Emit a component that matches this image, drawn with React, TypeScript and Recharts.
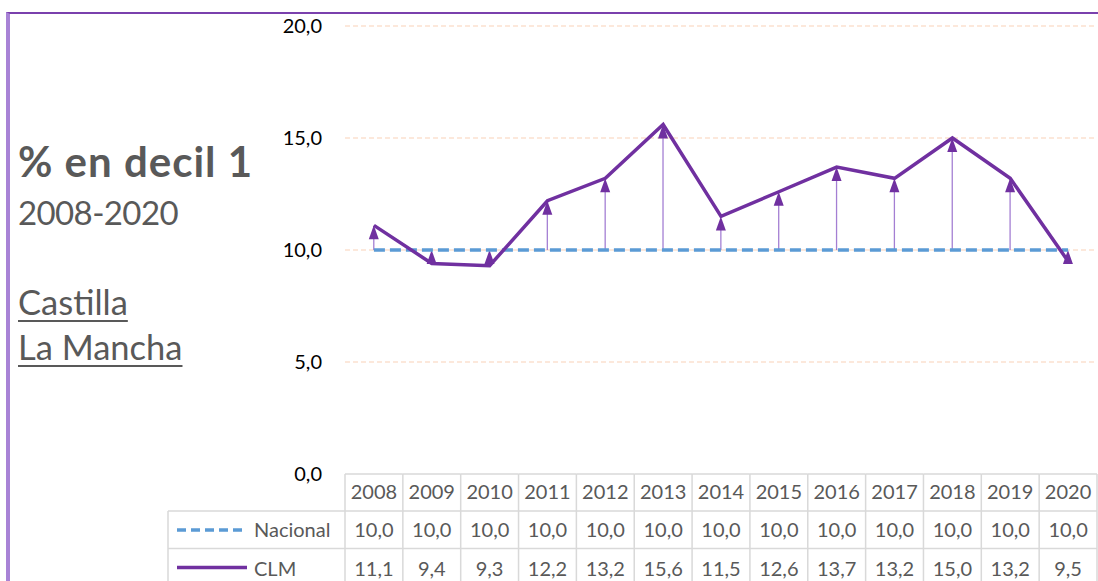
import React from 'react';
import { ComposedChart, Line, Bar, XAxis, YAxis, CartesianGrid } from 'recharts';

const years = ['2008', '2009', '2010', '2011', '2012', '2013', '2014', '2015', '2016', '2017', '2018', '2019', '2020'];
const nacional = [10.0, 10.0, 10.0, 10.0, 10.0, 10.0, 10.0, 10.0, 10.0, 10.0, 10.0, 10.0, 10.0];
const clm = [11.1, 9.4, 9.3, 12.2, 13.2, 15.6, 11.5, 12.6, 13.7, 13.2, 15.0, 13.2, 9.5];
const yTicks = [0, 5, 10, 15, 20];

const data = years.map((year, i) => ({
  year,
  nacional: nacional[i],
  clm: clm[i],
  range: [Math.min(nacional[i], clm[i]), Math.max(nacional[i], clm[i])],
}));

const fmt = (v: number) => v.toFixed(1).replace('.', ',');

const FONT = 'Lato, "Open Sans", sans-serif';
const TXT = '#595959';
const GRID = '#d9d9d9';

const ArrowShape = (props: any) => {
  const { x, y, width, height } = props;
  if (x == null || y == null) return null;
  const cx = x + width / 2;
  const top = Math.min(y, y + height);
  const bottom = Math.max(y, y + height);
  const tw = 10;
  const th = 14;
  return (
    <g>
      <line x1={cx} x2={cx} y1={bottom} y2={top + th / 2} stroke="#a47fd3" strokeWidth={1.3} />
      <polygon points={`${cx},${top} ${cx - tw / 2},${top + th} ${cx + tw / 2},${top + th}`} fill="#7030a0" />
    </g>
  );
};

const TableTick = (props: any) => {
  const { x, y, index, width } = props;
  const bw = width ? width / years.length : 57.9;
  const left = x - bw / 2;
  const right = x + bw / 2;
  const r1 = y + 37;
  const r2 = y + 74.5;
  const bottom = y + 120;
  const i = index;
  const legendLeft = 168;
  return (
    <g fontFamily={FONT}>
      <line x1={left} x2={right} y1={y} y2={y} stroke={GRID} strokeWidth={1.5} />
      <line x1={left} x2={right} y1={r1} y2={r1} stroke={GRID} strokeWidth={1.5} />
      <line x1={left} x2={right} y1={r2} y2={r2} stroke={GRID} strokeWidth={1.5} />
      <line x1={left} x2={left} y1={y} y2={bottom} stroke={GRID} strokeWidth={1.5} />
      {i === years.length - 1 && (
        <line x1={right} x2={right} y1={y} y2={bottom} stroke={GRID} strokeWidth={1.5} />
      )}
      <text x={x} y={y + 25} textAnchor="middle" fontSize={20} fill={TXT}>{years[i]}</text>
      <text x={x} y={y + 63} textAnchor="middle" fontSize={20} fill={TXT}>{fmt(nacional[i])}</text>
      <text x={x} y={y + 101.5} textAnchor="middle" fontSize={20} fill={TXT}>{fmt(clm[i])}</text>
      {i === 0 && (
        <g>
          <line x1={legendLeft} x2={left} y1={r1} y2={r1} stroke={GRID} strokeWidth={1.5} />
          <line x1={legendLeft} x2={left} y1={r2} y2={r2} stroke={GRID} strokeWidth={1.5} />
          <line x1={legendLeft} x2={legendLeft} y1={r1} y2={bottom} stroke={GRID} strokeWidth={1.5} />
          <line x1={177} x2={247} y1={y + 56} y2={y + 56} stroke="#5b9bd5" strokeWidth={3.5} strokeDasharray="9 5" />
          <text x={254} y={y + 63} fontSize={20} fill={TXT}>Nacional</text>
          <line x1={177} x2={247} y1={y + 93.5} y2={y + 93.5} stroke="#7030a0" strokeWidth={3.5} />
          <text x={254} y={y + 101.5} fontSize={20} fill={TXT}>CLM</text>
        </g>
      )}
    </g>
  );
};

const underline = { textDecoration: 'underline', textDecorationThickness: 2, textUnderlineOffset: 5 } as const;

export default function App() {
  return (
    <div style={{ position: 'absolute', left: 0, top: 0, width: 1098, height: 581, background: '#fff', fontFamily: FONT, overflow: 'hidden' }}>
      <div style={{ position: 'absolute', left: 6, top: 12, width: 1100, height: 580, borderTop: '2px solid #7a40ad', borderLeft: '4px solid #a883d6', boxSizing: 'border-box' }} />
      <ComposedChart
        width={1098}
        height={581}
        data={data}
        margin={{ top: 26, right: 1, bottom: 0, left: 285 }}
        style={{ position: 'absolute', left: 0, top: 0 }}
      >
        <CartesianGrid vertical={false} horizontalValues={[5, 10, 15, 20]} stroke="#fbe1cf" strokeWidth={1.5} strokeDasharray="5 3" />
        <XAxis
          dataKey="year"
          height={107}
          axisLine={false}
          tickLine={false}
          tickSize={0}
          tickMargin={0}
          interval={0}
          tick={<TableTick />}
        />
        <YAxis
          domain={[0, 20]}
          ticks={yTicks}
          width={60}
          axisLine={false}
          tickLine={false}
          tickSize={0}
          tickMargin={23}
          tickFormatter={(v: number) => fmt(v)}
          tick={{ fill: '#000', fontSize: 20, fontFamily: FONT }}
          interval={0}
        />
        <Bar dataKey="range" shape={<ArrowShape />} isAnimationActive={false} />
        <Line dataKey="nacional" stroke="#5b9bd5" strokeWidth={3.5} strokeDasharray="11 5" dot={false} activeDot={false} isAnimationActive={false} />
        <Line dataKey="clm" stroke="#7030a0" strokeWidth={3.5} dot={false} activeDot={false} isAnimationActive={false} strokeLinejoin="miter" />
      </ComposedChart>
      <div style={{ position: 'absolute', left: 18, top: 139.5, fontSize: 42, fontWeight: 700, letterSpacing: 1, color: TXT, lineHeight: 1, whiteSpace: 'nowrap' }}>% en decil 1</div>
      <div style={{ position: 'absolute', left: 18, top: 195.5, fontSize: 33, letterSpacing: -0.6, color: TXT, lineHeight: 1, whiteSpace: 'nowrap' }}>2008-2020</div>
      <div style={{ position: 'absolute', left: 18, top: 284.5, fontSize: 34.5, color: TXT, lineHeight: 1, whiteSpace: 'nowrap', ...underline }}>Castilla</div>
      <div style={{ position: 'absolute', left: 18, top: 329.5, fontSize: 34.5, color: TXT, lineHeight: 1, whiteSpace: 'nowrap', ...underline }}>La Mancha</div>
    </div>
  );
}
